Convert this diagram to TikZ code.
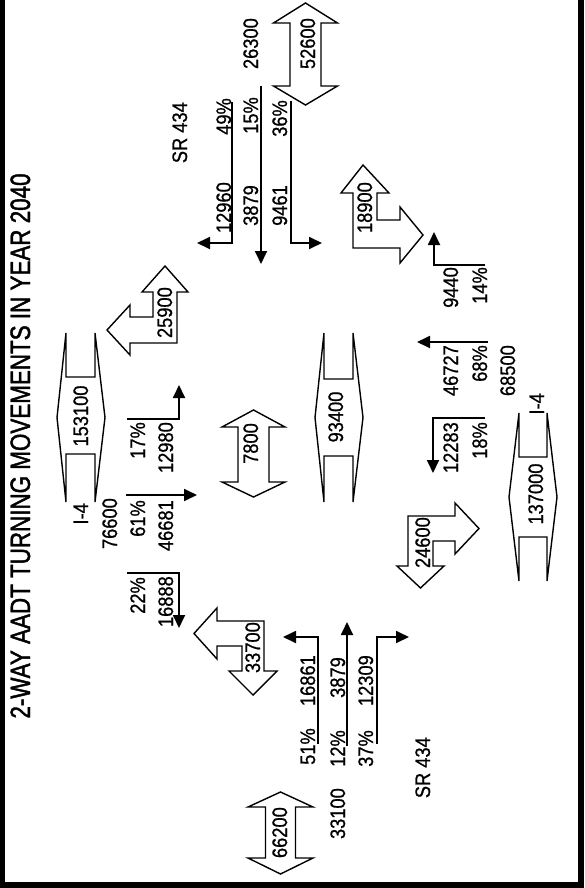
\documentclass[tikz,border=0pt]{standalone}
\usepackage{fontspec}
\newfontfamily\labfont{Liberation Sans}[FakeStretch=0.87,FakeBold=0.8]
\newfontfamily\titlefont{Liberation Sans}[FakeStretch=0.80,FakeBold=1.5]
\usetikzlibrary{arrows.meta}
\begin{document}
\begin{tikzpicture}[x=1pt,y=-1pt,
  shp/.style={draw=black, line width=1.4pt, line join=miter, fill=white},
  mov/.style={draw=black, line width=1.8pt},
  arr/.style={mov, -{Triangle[length=13pt,width=12pt]}},
  lab/.style={rotate=90, inner sep=0pt, font=\labfont\fontsize{21}{21}\selectfont},
  ttl/.style={rotate=90, inner sep=0pt, font=\titlefont\fontsize{28}{28}\selectfont}]
\useasboundingbox (0,0) rectangle (584,888);
\fill[white] (0,0) rectangle (584,888);
% frame
\fill[black] (0,0) rectangle (5,888);
\fill[black] (578,0) rectangle (584,888);
\fill[black] (0,882) rectangle (584,888);

% title
\node[ttl, anchor=base] (title) at (30,446) {2-WAY AADT TURNING MOVEMENTS IN YEAR 2040};

% ---------- double arrows ----------
\draw[shp] (305.5,3) -- (337.5,23) -- (321,23) -- (321,86) -- (337.5,86) -- (305.5,105) -- (273.5,86) -- (290,86) -- (290,23) -- (273.5,23) -- cycle;
\node[lab, anchor=base east] (v52600) at (315,18) {52600};

\draw[shp] (253.5,410) -- (285,427) -- (269,427) -- (269,482) -- (285,482) -- (253.5,497) -- (222,482) -- (238,482) -- (238,427) -- (222,427) -- cycle;
\node[lab, anchor=base east] (v7800) at (258,423) {7800};

\draw[shp] (280.5,792) -- (313,807) -- (295.5,807) -- (295.5,858) -- (313,858) -- (280.5,874) -- (248,858) -- (265.5,858) -- (265.5,807) -- (248,807) -- cycle;
\node[lab, anchor=base east] (v66200) at (287,807) {66200};

% ---------- I-4 hexagons ----------
\draw[shp] (66,333) -- (57,417.5) -- (66,502) -- (66,454) -- (95,454) -- (95,502) -- (105,417.5) -- (95,333) -- (95,377) -- (66,377) -- cycle;
\node[lab, anchor=base] (v153100) at (88,416) {153100};

\draw[shp] (324,333) -- (315,417.5) -- (324,502) -- (324,456) -- (353,456) -- (353,502) -- (363,417.5) -- (353,333) -- (353,379) -- (324,379) -- cycle;
\node[lab, anchor=base] (v93400) at (343,417) {93400};

\draw[shp] (519,413) -- (509,497) -- (519,581) -- (519,537) -- (547,537) -- (547,581) -- (557,497) -- (547,413) -- (547,457) -- (519,457) -- cycle;
\node[lab, anchor=base] (v137000) at (543,494) {137000};

% ---------- turning arrows ----------
\draw[shp] (353,248) -- (400,248) -- (400,263) -- (423,235) -- (400,207) -- (400,220) -- (377,220) -- (377,193) -- (389,193) -- (363,165) -- (341,193) -- (353,193) -- cycle;
\node[lab, anchor=base east] (v18900) at (372,182) {18900};

\draw[shp] (177,343) -- (130,343) -- (130,355) -- (107,330) -- (130,305) -- (130,317) -- (153,317) -- (153,292) -- (142,292) -- (165,266) -- (188,292) -- (177,292) -- cycle;
\node[lab, anchor=base east] (v25900) at (172,287) {25900};

\draw[shp] (264,621) -- (217,621) -- (217,608) -- (194,633.5) -- (217,659) -- (217,646) -- (242,646) -- (242,671) -- (229,671) -- (253,695) -- (277,671) -- (264,671) -- cycle;
\node[lab, anchor=base east] (v33700) at (260,622) {33700};

\draw[shp] (408,516) -- (455,516) -- (455,503) -- (479,528.5) -- (455,554) -- (455,541) -- (433,541) -- (433,566) -- (444,566) -- (420.5,588) -- (397,566) -- (408,566) -- cycle;
\node[lab, anchor=base east] (v24600) at (430,517) {24600};

% ---------- SR 434 (north) ----------
\node[lab, anchor=base east] (srN) at (187,102) {SR 434};
\node[lab, anchor=base east] (n26300) at (258,18) {26300};
\node[lab, anchor=base east] (p49) at (231,98) {49\%};
\node[lab, anchor=base east] (p15) at (258,97) {15\%};
\node[lab, anchor=base east] (p36) at (287,100) {36\%};
\node[lab, anchor=base east] (n12960) at (231,182) {12960};
\node[lab, anchor=base east] (n3879a) at (258,185) {3879};
\node[lab, anchor=base east] (n9461) at (287,185) {9461};
\coordinate (a1s) at (232,102); \coordinate (a1c) at (232,243); \coordinate (a1e) at (197,243);
\coordinate (a2s) at (261,86);  \coordinate (a2e) at (261,264);
\coordinate (a3s) at (291,101); \coordinate (a3c) at (291,243); \coordinate (a3e) at (322,243);
\draw[arr] (a1s) -- (a1c) -- (a1e);
\draw[arr] (a2s) -- (a2e);
\draw[arr] (a3s) -- (a3c) -- (a3e);

% ---------- I-4 (west side, top of page) ----------
\node[lab, anchor=base east] (i4W) at (88,503) {I-4};
\node[lab, anchor=base east] (n76600) at (117,498) {76600};
\node[lab, anchor=base east] (p61) at (145,500) {61\%};
\node[lab, anchor=base east] (n46681) at (173,500) {46681};
\node[lab, anchor=base east] (p17) at (145,422) {17\%};
\node[lab, anchor=base east] (n12980) at (173,422) {12980};
\node[lab, anchor=base east] (p22) at (145,577) {22\%};
\node[lab, anchor=base east] (n16888) at (173,576) {16888};
\coordinate (b1s) at (126,495); \coordinate (b1e) at (197,495);
\coordinate (b2s) at (127,419); \coordinate (b2c) at (179,419); \coordinate (b2e) at (179,385);
\coordinate (b3s) at (127,573); \coordinate (b3c) at (179,573); \coordinate (b3e) at (179,628);
\draw[arr] (b1s) -- (b1e);
\draw[arr] (b2s) -- (b2c) -- (b2e);
\draw[arr] (b3s) -- (b3c) -- (b3e);

% ---------- I-4 (east side) ----------
\node[lab, anchor=base east] (i4E) at (544,393) {I-4};
\node[lab, anchor=base east] (n9440) at (458,267) {9440};
\node[lab, anchor=base east] (p14) at (487,267) {14\%};
\node[lab, anchor=base east] (n46727) at (458,345) {46727};
\node[lab, anchor=base east] (p68) at (487,345) {68\%};
\node[lab, anchor=base east] (n68500) at (515,345) {68500};
\node[lab, anchor=base east] (n12283) at (458,422) {12283};
\node[lab, anchor=base east] (p18) at (487,422) {18\%};
\coordinate (c1s) at (485,265); \coordinate (c1c) at (434,265); \coordinate (c1e) at (434,232);
\coordinate (c2s) at (488,342); \coordinate (c2e) at (417,342);
\coordinate (c3s) at (485,418); \coordinate (c3c) at (433,418); \coordinate (c3e) at (433,473);
\draw[arr] (c1s) -- (c1c) -- (c1e);
\draw[arr] (c2s) -- (c2e);
\draw[arr] (c3s) -- (c3c) -- (c3e);

% ---------- SR 434 (south) ----------
\node[lab, anchor=base east] (srS) at (430,737) {SR 434};
\node[lab, anchor=base east] (n33100) at (345,788) {33100};
\node[lab, anchor=base east] (p51) at (315,728) {51\%};
\node[lab, anchor=base east] (p12) at (345,730) {12\%};
\node[lab, anchor=base east] (p37) at (373,730) {37\%};
\node[lab, anchor=base east] (n16861) at (315,655) {16861};
\node[lab, anchor=base east] (n3879b) at (345,657) {3879};
\node[lab, anchor=base east] (n12309) at (373,655) {12309};
\coordinate (d1s) at (318,744); \coordinate (d1c) at (318,637); \coordinate (d1e) at (283,637);
\coordinate (d2s) at (347,746); \coordinate (d2e) at (347,622);
\coordinate (d3s) at (377,744); \coordinate (d3c) at (377,637); \coordinate (d3e) at (409,637);
\draw[arr] (d1s) -- (d1c) -- (d1e);
\draw[arr] (d2s) -- (d2e);
\draw[arr] (d3s) -- (d3c) -- (d3e);
\end{tikzpicture}
\end{document}
